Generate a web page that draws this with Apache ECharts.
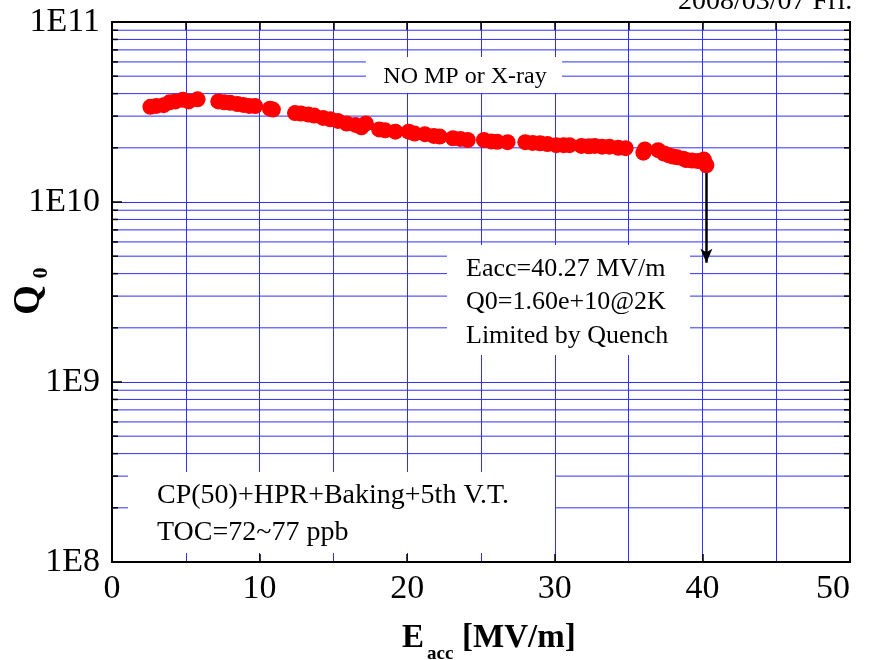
<!DOCTYPE html>
<html>
<head>
<meta charset="utf-8">
<script src="https://cdn.jsdelivr.net/npm/echarts@6/dist/echarts.min.js"></script>
<style>
  html, body { margin: 0; padding: 0; background: #fff; }
  #chart { width: 871px; height: 660px; }
</style>
</head>
<body>
<div id="chart"></div>
<script>
// Vertical test: Q0 versus accelerating gradient at 2 K
const energy = [
  2.6, 3.0, 3.5, 3.9, 4.3, 4.8, 5.2, 5.8, 7.2, 7.6, 8.0, 8.5, 8.9, 9.3, 9.7,
  10.7, 10.9, 12.4, 12.8, 13.3, 13.7, 14.3, 14.8, 15.3, 15.9, 16.5, 16.9, 17.2,
  18.1, 18.5, 19.2, 20.1, 20.5, 21.2, 21.8, 22.2, 23.1, 23.6, 24.1, 25.2, 25.7,
  26.1, 26.8, 28.0, 28.5, 29.0, 29.5, 30.1, 30.6, 31.0, 31.8, 32.3, 32.7, 33.2,
  33.7, 34.3, 34.8, 36.0, 36.1, 37.0, 37.4, 37.7, 38.0, 38.3, 38.7, 38.9, 39.3,
  39.7, 40.1, 40.27
];
const q0 = [
  3.38e10, 3.42e10, 3.45e10, 3.58e10, 3.62e10, 3.70e10, 3.62e10, 3.72e10, 3.62e10,
  3.58e10, 3.56e10, 3.50e10, 3.46e10, 3.42e10, 3.41e10, 3.30e10, 3.26e10, 3.12e10,
  3.10e10, 3.06e10, 3.02e10, 2.93e10, 2.88e10, 2.82e10, 2.73e10, 2.68e10, 2.60e10,
  2.73e10, 2.53e10, 2.50e10, 2.46e10, 2.46e10, 2.40e10, 2.38e10, 2.33e10, 2.31e10,
  2.26e10, 2.24e10, 2.21e10, 2.21e10, 2.17e10, 2.16e10, 2.15e10, 2.15e10, 2.13e10,
  2.12e10, 2.10e10, 2.07e10, 2.07e10, 2.07e10, 2.05e10, 2.04e10, 2.05e10, 2.03e10,
  2.03e10, 2.00e10, 1.99e10, 1.88e10, 1.96e10, 1.94e10, 1.86e10, 1.82e10, 1.79e10,
  1.77e10, 1.74e10, 1.71e10, 1.70e10, 1.69e10, 1.72e10, 1.60e10
];
const yTickLabels = ['1E8', '1E9', '1E10', '1E11'];
const xTickLabels = ['0', '10', '20', '30', '40', '50'];
// intermediate decade lines (2..9 x 10^n)
const minorGridValues = [];
[1e8, 1e9, 1e10].forEach(d => { for (let k = 2; k <= 9; k++) minorGridValues.push(k * d); });
// quench point and the arrow drawn down from it
const quenchField = [40.27];
const quenchQ = [1.60e10];
const arrowQ = [1.45e10, 4.6e9];

const FONT = 'Liberation Serif';
const GRID_BLUE = '#2f2fff';

const chart = echarts.init(document.getElementById('chart'), null, { renderer: 'canvas' });

const points = energy.map((e, i) => [e, q0[i]]);

const option = {
  backgroundColor: '#ffffff',
  animation: false,
  grid: { left: 112, right: 21, top: 22, bottom: 98 },
  xAxis: [
    {
      type: 'value', min: 0, max: 50, interval: 10, position: 'bottom',
      axisLine: { show: true, onZero: false, lineStyle: { color: '#000', width: 2 } },
      axisTick: { show: true, inside: true, length: 8, lineStyle: { color: '#000', width: 1.5 } },
      minorTick: { show: false, splitNumber: 2 },
      minorSplitLine: { show: true, lineStyle: { color: GRID_BLUE, width: 1 } },
      splitLine: { show: true, lineStyle: { color: GRID_BLUE, width: 1 } },
      axisLabel: {
        margin: 10, color: '#000', fontFamily: FONT, fontSize: 34,
        alignMaxLabel: 'right',
        formatter: (v) => xTickLabels[Math.round(v / 10)]
      }
    },
    {
      type: 'value', min: 0, max: 50, interval: 5, position: 'top',
      axisLine: { show: true, onZero: false, lineStyle: { color: '#000', width: 2 } },
      axisTick: { show: true, inside: true, length: 8, lineStyle: { color: '#000', width: 1.5 } },
      splitLine: { show: false },
      axisLabel: { show: false }
    }
  ],
  yAxis: [
    {
      type: 'log', logBase: 10, min: 1e8, max: 1e11, position: 'left',
      axisLine: { show: true, onZero: false, lineStyle: { color: '#000', width: 2 } },
      axisTick: { show: true, inside: true, length: 10, lineStyle: { color: '#000', width: 1.5 } },
      splitLine: { show: true, lineStyle: { color: GRID_BLUE, width: 1 } },
      axisLabel: {
        margin: 12, color: '#000', fontFamily: FONT, fontSize: 34,
        formatter: (v, i) => yTickLabels[i]
      }
    },
    {
      type: 'log', logBase: 10, min: 1e8, max: 1e11, position: 'right',
      axisLine: { show: true, onZero: false, lineStyle: { color: '#000', width: 2 } },
      axisTick: { show: true, inside: true, length: 10, lineStyle: { color: '#000', width: 1.5 } },
      splitLine: { show: false },
      axisLabel: { show: false }
    }
  ],
  series: [
    {
      // intermediate horizontal grid lines with short ticks on both frame sides
      type: 'custom',
      xAxisIndex: 0, yAxisIndex: 0,
      silent: true,
      z: 1,
      clip: false,
      data: minorGridValues.map(v => [0, v]),
      renderItem: (params, api) => {
        const y = api.coord([0, api.value(1)])[1];
        const cs = params.coordSys;
        const left = cs.x, right = cs.x + cs.width;
        return {
          type: 'group',
          children: [
            { type: 'line', shape: { x1: left, y1: y, x2: right, y2: y },
              style: { stroke: GRID_BLUE, lineWidth: 1 } },
            { type: 'line', shape: { x1: left, y1: y, x2: left + 6, y2: y },
              style: { stroke: '#000', lineWidth: 1.5 } },
            { type: 'line', shape: { x1: right - 6, y1: y, x2: right, y2: y },
              style: { stroke: '#000', lineWidth: 1.5 } }
          ]
        };
      }
    },
    {
      type: 'scatter',
      xAxisIndex: 0, yAxisIndex: 0,
      z: 3,
      symbol: 'circle',
      symbolSize: 16,
      itemStyle: { color: '#ff0000', opacity: 1 },
      data: points,
      markLine: {
        silent: true,
        symbol: ['none', 'arrow'],
        symbolSize: [9, 14],
        label: { show: false },
        lineStyle: { color: '#000', width: 2.5, type: 'solid' },
        data: [[
          { coord: [quenchField[0], arrowQ[0]] },
          { coord: [quenchField[0], arrowQ[1]] }
        ]]
      }
    }
  ],
  graphic: [
    // date stamp at the top right
    { type: 'text', z: 100, left: 678, top: -12,
      style: { text: '2008/03/07 Fri.', font: '28px "Liberation Serif"', fill: '#000' } },

    // annotation boxes
    { type: 'rect', z: 100, shape: { x: 366, y: 57, width: 196, height: 36 }, style: { fill: '#fff' } },
    { type: 'text', z: 101, x: 465, y: 77,
      style: { text: 'NO MP or X-ray', font: '24px "Liberation Serif"', fill: '#000',
               align: 'center', verticalAlign: 'middle' } },

    { type: 'rect', z: 100, shape: { x: 447, y: 245, width: 243, height: 110 }, style: { fill: '#fff' } },
    { type: 'text', z: 101, x: 466, y: 269,
      style: { text: 'Eacc=' + quenchField[0].toFixed(2) + ' MV/m', font: '26px "Liberation Serif"', fill: '#000',
               align: 'left', verticalAlign: 'middle' } },
    { type: 'text', z: 101, x: 466, y: 302,
      style: { text: 'Q0=' + quenchQ[0].toExponential(2) + '@2K', font: '26px "Liberation Serif"', fill: '#000',
               align: 'left', verticalAlign: 'middle' } },
    { type: 'text', z: 101, x: 466, y: 336,
      style: { text: 'Limited by Quench', font: '26px "Liberation Serif"', fill: '#000',
               align: 'left', verticalAlign: 'middle' } },

    { type: 'rect', z: 100, shape: { x: 128, y: 472, width: 427, height: 81 }, style: { fill: '#fff' } },
    { type: 'text', z: 101, x: 157, y: 496,
      style: { text: 'CP(50)+HPR+Baking+5th V.T.', font: '28px "Liberation Serif"', fill: '#000',
               align: 'left', verticalAlign: 'middle' } },
    { type: 'text', z: 101, x: 157, y: 533,
      style: { text: 'TOC=72~77 ppb', font: '28px "Liberation Serif"', fill: '#000',
               align: 'left', verticalAlign: 'middle' } },

    // x axis title: E_acc [MV/m]
    { type: 'text', z: 101, x: 402, y: 638,
      style: { text: 'E', font: 'bold 33px "Liberation Serif"', fill: '#000', align: 'left', verticalAlign: 'middle' } },
    { type: 'text', z: 101, x: 427, y: 654,
      style: { text: 'acc', font: 'bold 19px "Liberation Serif"', fill: '#000', align: 'left', verticalAlign: 'middle' } },
    { type: 'text', z: 101, x: 462, y: 638,
      style: { text: '[MV/m]', font: 'bold 33px "Liberation Serif"', fill: '#000', align: 'left', verticalAlign: 'middle' } },

    // y axis title: Q_0 (rotated)
    { type: 'text', z: 101, x: 29, y: 300, rotation: Math.PI / 2,
      style: { text: 'Q', font: 'bold 38px "Liberation Serif"', fill: '#000', align: 'center', verticalAlign: 'middle' } },
    { type: 'text', z: 101, x: 41, y: 273, rotation: Math.PI / 2,
      style: { text: '0', font: 'bold 22px "Liberation Serif"', fill: '#000', align: 'center', verticalAlign: 'middle' } }
  ]
};

chart.setOption(option);
</script>
</body>
</html>
